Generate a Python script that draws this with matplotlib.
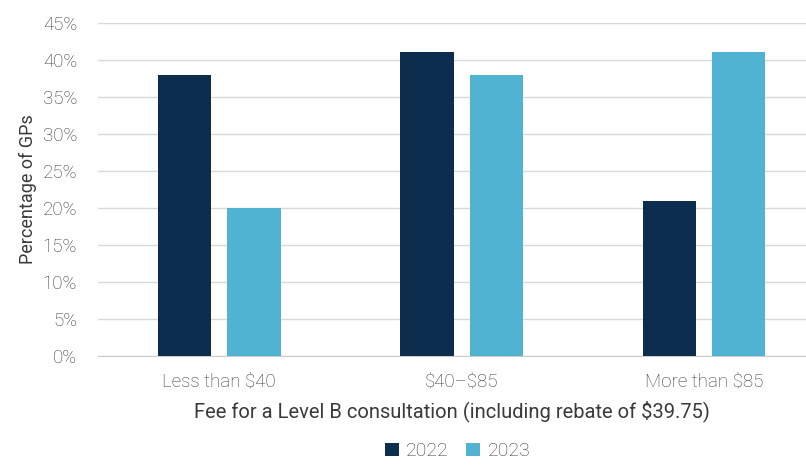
import numpy as np
import matplotlib.pyplot as plt

plt.rcParams['font.family'] = ['Roboto', 'DejaVu Sans']
plt.rcParams['font.weight'] = 'light'
plt.rcParams['text.parse_math'] = False

categories = ["Less than $40", "$40\u2013$85", "More than $85"]
years = ["2022", "2023"]
vals_2022 = [38, 41, 21]
vals_2023 = [20, 38, 41]

c22 = "#0c2d4e"
c23 = "#4fb3d1"
txt = "#3a3a3a"

fig = plt.figure(figsize=(8.06, 4.66), dpi=100)
ax = fig.add_axes([0.1216, 0.236, 0.878, 0.715])

x = np.arange(len(categories))
w = 0.22
off = 0.143
ax.bar(x - off, vals_2022, w, color=c22, label=years[0], zorder=3)
ax.bar(x + off, vals_2023, w, color=c23, label=years[1], zorder=3)

ax.set_ylim(0, 45)
ax.set_xlim(-0.5, 2.42)
ax.set_yticks(np.arange(0, 46, 5))
ax.set_yticklabels([f"{v}%" for v in range(0, 46, 5)])
ax.set_xticks(x)
ax.set_xticklabels(categories)
ax.yaxis.grid(True, color="#d9d9d9", lw=1, zorder=0)
ax.set_axisbelow(True)
for s in ["top", "right", "left"]:
    ax.spines[s].set_visible(False)
ax.spines["bottom"].set_color("#cccccc")
ax.tick_params(axis="both", length=0, labelsize=13.5, labelcolor=txt)
ax.tick_params(axis="x", pad=12)
ax.tick_params(axis="y", pad=15)

ax.set_ylabel("Percentage of GPs", fontsize=13, color=txt, labelpad=4)
ax.set_xlabel("Fee for a Level B consultation (including rebate of $39.75)",
              fontsize=14.5, color=txt, labelpad=7)

fig.legend(loc="lower center", bbox_to_anchor=(0.568, -0.025), ncol=2, frameon=False,
           fontsize=14, handlelength=0.7, handleheight=0.7, handletextpad=0.4,
           columnspacing=0.9, labelcolor=txt)

fig.savefig("out.png", dpi=100)
